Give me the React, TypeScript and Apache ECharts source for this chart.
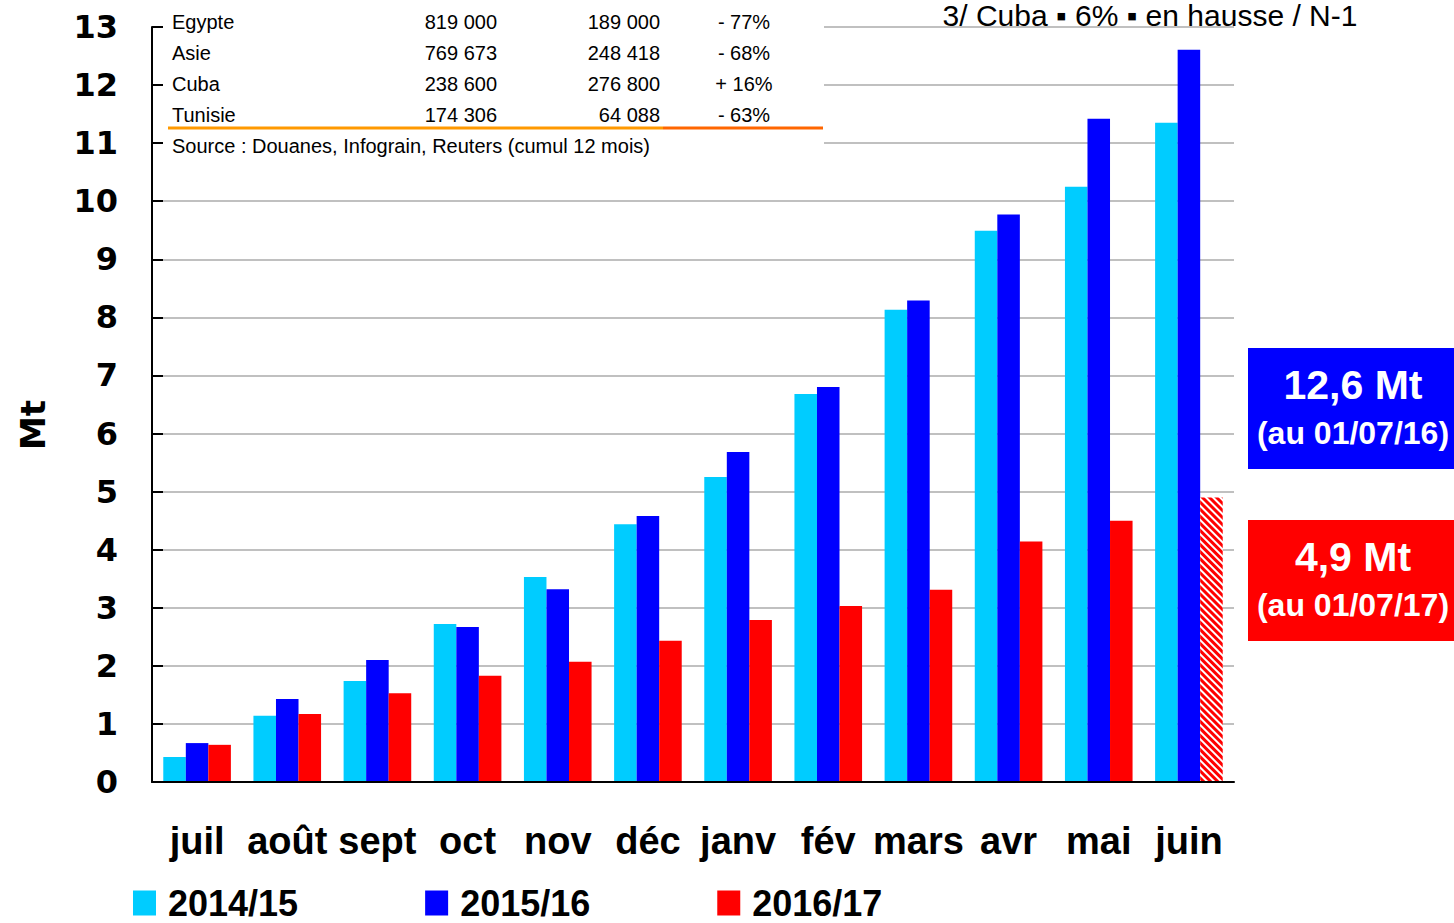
import React, { useEffect, useRef } from "react";
import * as echarts from "echarts";

const months = ["juil", "août", "sept", "oct", "nov", "déc", "janv", "fév", "mars", "avr", "mai", "juin"];
const seriesNames = ["2014/15", "2015/16", "2016/17"];
const s1415 = [0.43, 1.14, 1.74, 2.72, 3.53, 4.44, 5.25, 6.68, 8.13, 9.49, 10.25, 11.35];
const s1516 = [0.67, 1.43, 2.10, 2.67, 3.32, 4.58, 5.68, 6.80, 8.29, 9.77, 11.42, 12.61];
const s1617 = [0.64, 1.17, 1.53, 1.83, 2.07, 2.43, 2.79, 3.03, 3.31, 4.14, 4.50, 4.90];
const colors = ["#00ccff", "#0000ff", "#ff0000"];

const tableCountries = ["Egypte", "Asie", "Cuba", "Tunisie"];
const tablePrev = ["819 000", "769 673", "238 600", "174 306"];
const tableCurr = ["189 000", "248 418", "276 800", "64 088"];
const tableChange = ["- 77%", "- 68%", "+ 16%", "- 63%"];
const sourceText = "Source : Douanes, Infograin, Reuters (cumul 12 mois)";
const headline = "3/ Cuba ▪ 6% ▪ en hausse / N-1";
const box1 = ["12,6 Mt", "(au 01/07/16)"];
const box2 = ["4,9 Mt", "(au 01/07/17)"];

export default function App() {
  const ref = useRef<HTMLDivElement>(null);
  useEffect(() => {
    if (!ref.current) return;
    const chart = echarts.init(ref.current, null, { renderer: "svg" });
    const tf = "Liberation Sans, Arial, sans-serif";
    const tableTexts: any[] = [];
    tableCountries.forEach((c, i) => {
      const y = 22 + i * 31;
      const st = { fontFamily: tf, fontSize: 20, fill: "#000", verticalAlign: "middle" };
      tableTexts.push({ type: "text", z: 101, style: { ...st, text: c, x: 172, y, align: "left" } });
      tableTexts.push({ type: "text", z: 101, style: { ...st, text: tablePrev[i], x: 497, y, align: "right" } });
      tableTexts.push({ type: "text", z: 101, style: { ...st, text: tableCurr[i], x: 660, y, align: "right" } });
      tableTexts.push({ type: "text", z: 101, style: { ...st, text: tableChange[i], x: 744, y, align: "center" } });
    });
    const lastRed = s1617.map((v, i) =>
      i === s1617.length - 1
        ? {
            value: v,
            itemStyle: {
              color: "#ffffff",
              decal: {
                symbol: "rect",
                color: "#ff0000",
                dashArrayX: [1, 0],
                dashArrayY: [3, 2],
                rotation: Math.PI / 4,
              },
            },
          }
        : v
    );
    const boxText = (x: number, y: number, t: string, size: number) => ({
      type: "text",
      z: 101,
      style: {
        text: t,
        x,
        y,
        align: "center",
        verticalAlign: "middle",
        fontFamily: tf,
        fontWeight: "bold",
        fontSize: size,
        fill: "#fff",
      },
    });
    chart.setOption({
      animation: false,
      backgroundColor: "#fff",
      grid: { left: 152, right: 220, top: 27, bottom: 141, containLabel: false, outerBoundsMode: "none" },
      legend: {
        left: 128,
        top: 880,
        icon: "rect",
        itemWidth: 23,
        itemHeight: 25,
        itemGap: 127,
        data: seriesNames,
        textStyle: { fontFamily: tf, fontSize: 36, lineHeight: 36, fontWeight: "bold", color: "#000", padding: [0, 0, 0, 7] },
      },
      xAxis: {
        type: "category",
        data: months,
        axisLine: { show: true, lineStyle: { color: "#000", width: 2 } },
        axisTick: { show: false },
        axisLabel: { interval: 0, margin: 40, fontFamily: tf, fontSize: 38, fontWeight: "bold", color: "#000" },
        z: 5,
      },
      yAxis: {
        type: "value",
        min: 0,
        max: 13,
        interval: 1,
        axisLine: { show: true, lineStyle: { color: "#000", width: 2 } },
        axisTick: { show: true, inside: true, length: 11, lineStyle: { color: "#000", width: 2 } },
        axisLabel: { margin: 34, fontFamily: "DejaVu Sans, sans-serif", fontSize: 32, fontWeight: "bold", color: "#000" },
        splitLine: { show: true, lineStyle: { color: "#c0c0c0", width: 2 } },
      },
      series: [
        { name: seriesNames[0], type: "bar", data: s1415, itemStyle: { color: colors[0] }, barGap: "0%", barCategoryGap: "25%" },
        { name: seriesNames[1], type: "bar", data: s1516, itemStyle: { color: colors[1] }, barGap: "0%", barCategoryGap: "25%" },
        { name: seriesNames[2], type: "bar", data: lastRed, itemStyle: { color: colors[2] }, barGap: "0%", barCategoryGap: "25%" },
      ],
      graphic: [
        { type: "rect", z: 100, shape: { x: 163, y: 0, width: 661, height: 156 }, style: { fill: "#fff" } },
        ...tableTexts,
        {
          type: "text",
          z: 101,
          style: { text: sourceText, x: 172, y: 146, align: "left", verticalAlign: "middle", fontFamily: tf, fontSize: 20, fill: "#000" },
        },
        { type: "line", z: 101, shape: { x1: 168, y1: 128, x2: 663, y2: 128 }, style: { stroke: "#ff9900", lineWidth: 3 } },
        { type: "line", z: 101, shape: { x1: 663, y1: 128, x2: 823, y2: 128 }, style: { stroke: "#ff6600", lineWidth: 3 } },
        {
          type: "text",
          z: 101,
          style: { text: headline, x: 1150, y: 0, align: "center", verticalAlign: "top", lineHeight: 30, fontFamily: tf, fontSize: 30, fill: "#000" },
        },
        {
          type: "text",
          z: 101,
          x: 33,
          y: 425,
          rotation: Math.PI / 2,
          style: { text: "Mt", x: 0, y: 0, align: "center", verticalAlign: "middle", fontFamily: "DejaVu Sans, sans-serif", fontSize: 34, fontWeight: "bold", fill: "#000" },
        },
        { type: "rect", z: 100, shape: { x: 1248, y: 348, width: 206, height: 121 }, style: { fill: "#0000ff" } },
        boxText(1353, 385, box1[0], 41),
        boxText(1353, 433, box1[1], 32),
        { type: "rect", z: 100, shape: { x: 1248, y: 520, width: 206, height: 121 }, style: { fill: "#ff0000" } },
        boxText(1353, 557, box2[0], 41),
        boxText(1353, 605, box2[1], 32),
      ],
    });
    return () => chart.dispose();
  }, []);
  return <div ref={ref} style={{ position: "fixed", left: 0, top: 0, width: 1454, height: 923 }} />;
}
